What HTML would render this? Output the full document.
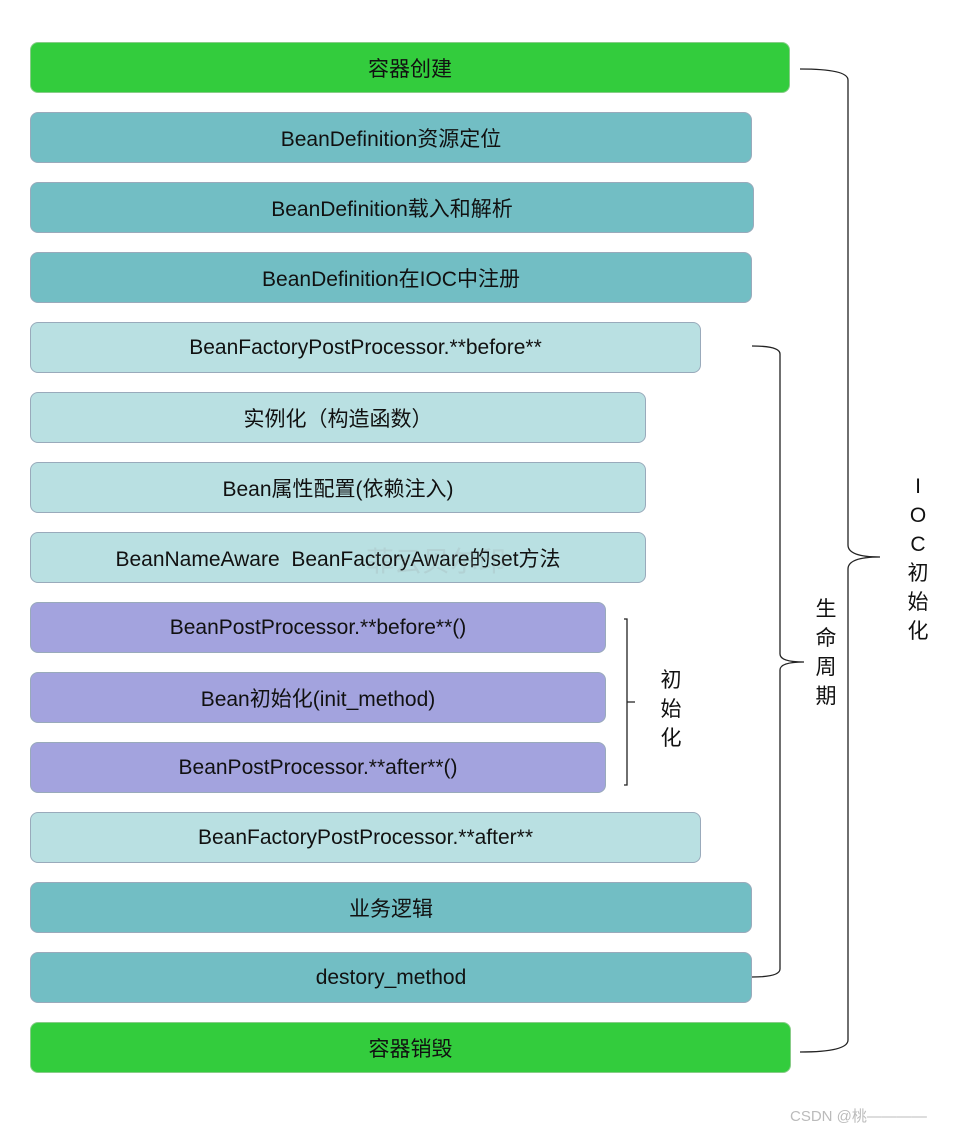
<!DOCTYPE html>
<html><head><meta charset="utf-8"><style>
body{margin:0;width:960px;height:1133px;background:#fff;position:relative;font-family:"Liberation Sans","Noto Sans CJK SC",sans-serif;overflow:hidden}
.b{position:absolute;left:30px;height:51px;border:1px solid #9ab;border-radius:8px;box-sizing:border-box;display:flex;align-items:center;justify-content:center;font-size:21px;color:#111}
.g{background:#33cc3d;border-color:#8c8}
.t{background:#72bec4}
.l{background:#b9e0e2}
.p{background:#a3a3de}
.v{position:absolute;font-size:21px;line-height:29px;width:30px;text-align:center;color:#111}
</style></head><body>
<div class="b g" style="top:42px;width:760px">容器创建</div>
<div class="b t" style="top:112px;width:722px">BeanDefinition资源定位</div>
<div class="b t" style="top:182px;width:724px">BeanDefinition载入和解析</div>
<div class="b t" style="top:252px;width:722px">BeanDefinition在IOC中注册</div>
<div class="b l" style="top:322px;width:671px">BeanFactoryPostProcessor.**before**</div>
<div class="b l" style="top:392px;width:616px">实例化（构造函数）</div>
<div class="b l" style="top:462px;width:616px">Bean属性配置(依赖注入)</div>
<div class="b l" style="top:532px;width:616px">BeanNameAware&nbsp;&nbsp;BeanFactoryAware的set方法</div>
<div class="b p" style="top:602px;width:576px">BeanPostProcessor.**before**()</div>
<div class="b p" style="top:672px;width:576px">Bean初始化(init_method)</div>
<div class="b p" style="top:742px;width:576px">BeanPostProcessor.**after**()</div>
<div class="b l" style="top:812px;width:671px">BeanFactoryPostProcessor.**after**</div>
<div class="b t" style="top:882px;width:722px">业务逻辑</div>
<div class="b t" style="top:952px;width:722px">destory_method</div>
<div class="b g" style="top:1022px;width:761px">容器销毁</div>
<svg style="position:absolute;left:0;top:0" width="960" height="1133">
<g fill="none" stroke="#222" stroke-width="1.3">
<path d="M800 69 Q848 69 848 80 L848 545 Q848 557 880 557 M880 557 Q848 557 848 569 L848 1040 Q848 1052 800 1052"/>
<path d="M752 346 Q780 346 780 354 L780 654 Q780 662 804 662 M804 662 Q780 662 780 670 L780 969 Q780 977 752 977"/>
<path d="M624 619 L627 619 L627 785 L624 785 M627 702 L635 702"/>
</g></svg>
<div class="v" style="left:903px;top:472px">I<br>O<br>C<br>初<br>始<br>化</div>
<div class="v" style="left:811px;top:595px">生<br>命<br>周<br>期</div>
<div class="v" style="left:656px;top:666px">初<br>始<br>化</div>
<div style="position:absolute;left:366px;top:540px;font-size:28px;color:rgba(150,150,150,0.18)">菲云贝尔印</div>
<div style="position:absolute;left:790px;top:1105px;font-size:15px;color:#bbb">CSDN @桃————</div>
</body></html>
